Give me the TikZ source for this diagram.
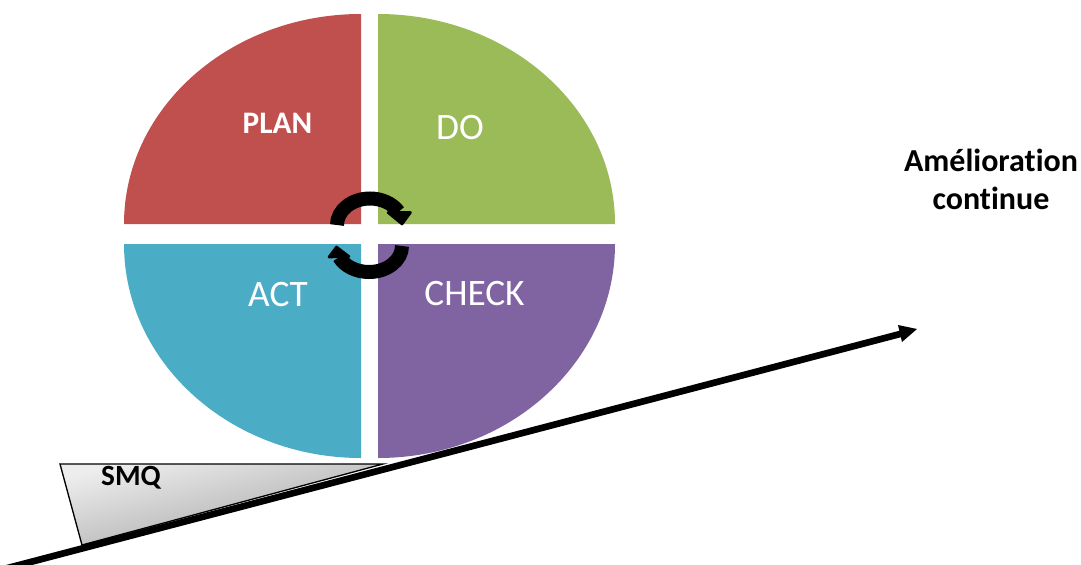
\documentclass[tikz,border=0pt]{standalone}
\usepackage{fontspec}
\setmainfont[Ligatures=NoCommon]{Carlito}
\usetikzlibrary{shadings}
\definecolor{cred}{HTML}{C0504D}
\definecolor{cgreen}{HTML}{9BBB59}
\definecolor{cteal}{HTML}{4BACC6}
\definecolor{cpurple}{HTML}{8064A2}
\tikzset{
  px/.style={x=0.75pt,y=-0.75pt},
  whitelabel/.style={text=white,inner sep=0pt,font=\fontsize{28}{34}\selectfont},
  boldlabel/.style={text=black,inner sep=0pt,align=center,font=\fontsize{24}{28.5}\selectfont\bfseries},
  cyclearc/.style={draw=black,line width=10.5pt},
  cyclehead/.style={fill=black,draw=black,line width=2pt,line join=round},
}
\begin{document}
\begin{tikzpicture}[px]
\useasboundingbox (0,0) rectangle (1081,564);
% quadrants
\fill[cred] (361,224) -- (124,224) arc[start angle=180,end angle=270,x radius=237,y radius=210] -- cycle;
\fill[cgreen] (378,224) -- (378,14) arc[start angle=270,end angle=360,x radius=237,y radius=210] -- cycle;
\fill[cteal] (361,244) -- (361,458) arc[start angle=90,end angle=180,x radius=237,y radius=214] -- cycle;
\fill[cpurple] (378,244) -- (615,244) arc[start angle=0,end angle=90,x radius=237,y radius=214] -- cycle;
% labels
\node[whitelabel,font=\fontsize{23.5}{28}\selectfont\bfseries] (plan) at (277.5,123) {PLAN};
\node[whitelabel] (do) at (460,128) {DO};
\node[whitelabel] (act) at (278,295) {ACT};
\node[whitelabel] (check) at (474.5,294) {CHECK};
\node[boldlabel] (amelioration) at (991,179.5) {Amélioration\\continue};
% cycle arrows
\draw[cyclearc] (337,225) arc[start angle=180,end angle=330,x radius=33,y radius=26.5];
\fill[cyclehead] (388,212.5) -- (410.5,212.5) -- (402,224) -- cycle;
\draw[cyclearc] (402,246) arc[start angle=0,end angle=155,x radius=33,y radius=26];
\fill[cyclehead] (336.5,247) -- (329,257) -- (349,256.5) -- cycle;
% wedge
\coordinate (w1) at (60,464);
\coordinate (w2) at (383,464);
\coordinate (w3) at (82,545);
\begin{scope}[x=0.75pt,y=0.75pt]
\shade[top color=black!7,bottom color=black!37,shading angle=14] (60,-464) -- (383,-464) -- (82,-545) -- cycle;
\end{scope}
\draw[black,line width=1pt,line join=miter] (w1) -- (w2) -- (w3) -- cycle;
\node[inner sep=0pt,font=\fontsize{22}{27}\selectfont\bfseries] (smq) at (131,478) {SMQ};
% main arrow
\coordinate (a0) at (0,570);
\coordinate (a1) at (902,333.5);
\draw[black,line width=5pt] (a0) -- (a1);
\fill[black] (917,329) -- (898,325) -- (902,342) -- cycle;
\end{tikzpicture}
\end{document}
